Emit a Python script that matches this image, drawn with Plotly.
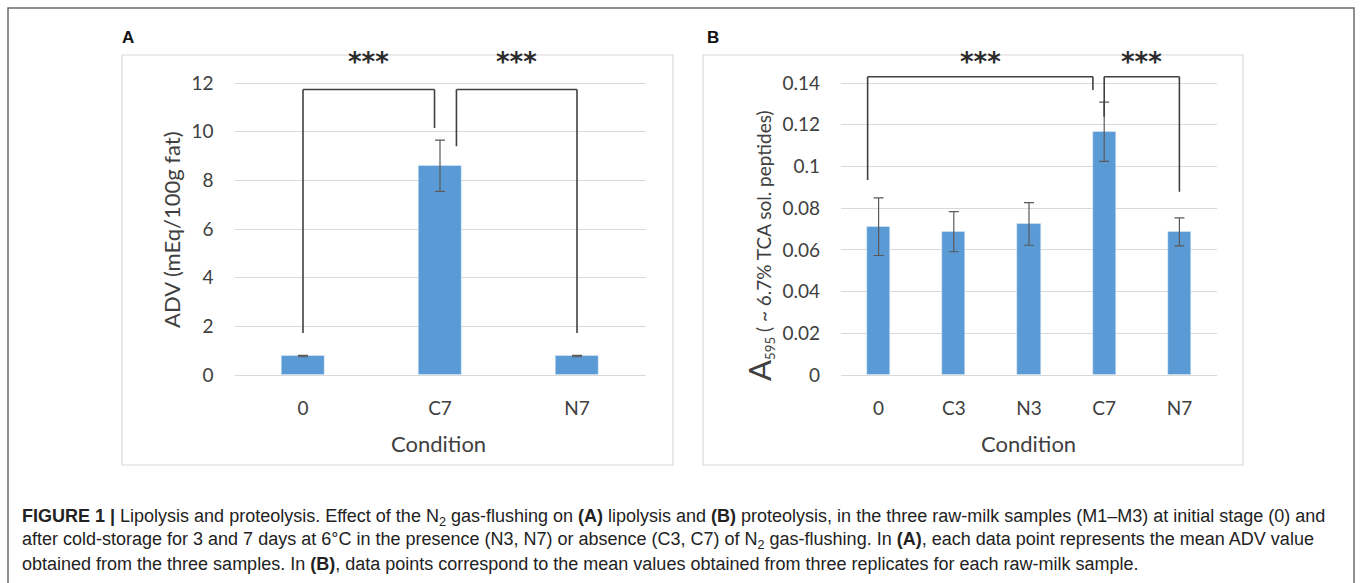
import plotly.graph_objects as go

# ---------------- data ----------------
cats_a = ["0", "C7", "N7"]
adv_mean = [0.78, 8.6, 0.78]
adv_err = [0.03, 1.05, 0.03]

cats_b = ["0", "C3", "N3", "C7", "N7"]
a595_mean = [0.0711, 0.0687, 0.0724, 0.1166, 0.0686]
a595_err = [0.0138, 0.0096, 0.0102, 0.0142, 0.0067]

yticks_a = [0, 2, 4, 6, 8, 10, 12]
yticks_b = [0, 0.02, 0.04, 0.06, 0.08, 0.1, 0.12, 0.14]
yticklabels_b = ["0", "0.02", "0.04", "0.06", "0.08", "0.1", "0.12", "0.14"]

# significance brackets: (from cat, offset, leg height, to cat, offset, leg height, top)
brackets_a = [
    ("0", 0.0, 1.73, "C7", -0.04, 10.15, 11.73),
    ("C7", 0.12, 9.4, "N7", 0.0, 1.73, 11.73),
]
brackets_b = [
    ("0", -0.146, 0.0935, "C7", -0.15, 0.1366, 0.143),
    ("C7", 0.0, 0.1238, "N7", 0.0, 0.0879, 0.143),
]
sig_label = "***"
star_y_a = 12.88
star_y_b = 0.1502

# ---------------- layout helpers ----------------
W, H = 1360, 583
def fx(px):
    return px / W
def fy(py):
    return 1 - py / H

BAR = "#5B9BD5"
GRID = "#d9d9d9"
TXT = "#404040"
FONT = "Lato, 'Open Sans', sans-serif"

# y=0 at 375 px, top tick at 83 px; ranges extended above top tick for brackets
Y0_PX, YTOP_PX = 375, 83
range_a = [0, 13.2]
range_b = [0, 0.154]
top_px = Y0_PX - (Y0_PX - YTOP_PX) * range_a[1] / yticks_a[-1]

fig = go.Figure()
fig.add_trace(go.Bar(
    x=cats_a, y=adv_mean, width=0.31, marker_color=BAR,
    error_y=dict(type="data", array=adv_err, color="#595959", thickness=1.2, width=5),
    xaxis="x", yaxis="y", showlegend=False))
fig.add_trace(go.Bar(
    x=cats_b, y=a595_mean, width=0.31, marker_color=BAR,
    error_y=dict(type="data", array=a595_err, color="#595959", thickness=1.2, width=5),
    xaxis="x2", yaxis="y2", showlegend=False))

shapes = []
annotations = []

def add_brackets(brackets, cats, xref, yref, star_y):
    for c0, d0, h0, c1, d1, h1, top in brackets:
        xa = cats.index(c0) + d0
        xb = cats.index(c1) + d1
        for (x0, y0, x1, y1) in [(xa, h0, xa, top), (xa, top, xb, top), (xb, top, xb, h1)]:
            shapes.append(dict(type="line", xref=xref, yref=yref, x0=x0, y0=y0, x1=x1, y1=y1,
                               line=dict(color="#404040", width=1.6)))
        annotations.append(dict(x=(xa + xb) / 2, y=star_y, xref=xref, yref=yref,
                                text="<b>" + sig_label + "</b>",
                                xanchor="center", yanchor="middle", showarrow=False,
                                font=dict(family="DejaVu Sans", size=26, color="#2b2b2b")))

add_brackets(brackets_a, cats_a, "x", "y", star_y_a)
add_brackets(brackets_b, cats_b, "x2", "y2", star_y_b)

# frames
shapes.append(dict(type="rect", xref="paper", yref="paper", x0=fx(8), x1=fx(1354), y0=fy(8), y1=fy(600),
                   line=dict(color="#6b6b6b", width=1.5), layer="below"))
shapes.append(dict(type="rect", xref="paper", yref="paper", x0=fx(122), x1=fx(673), y0=fy(55), y1=fy(465),
                   line=dict(color=GRID, width=1.2), layer="below"))
shapes.append(dict(type="rect", xref="paper", yref="paper", x0=fx(703), x1=fx(1243), y0=fy(55), y1=fy(465),
                   line=dict(color=GRID, width=1.2), layer="below"))

def label(px, py, text, font, **kw):
    d = dict(x=fx(px), y=fy(py), xref="paper", yref="paper", text=text, showarrow=False,
             xanchor="center", yanchor="middle", font=font)
    d.update(kw)
    annotations.append(d)

# panel letters
letter_font = dict(family="Liberation Sans, Arial", size=17, color="#111")
label(128, 37, "<b>A</b>", letter_font)
label(713, 37, "<b>B</b>", letter_font)

# axis titles
title_font = dict(family=FONT, size=22, color=TXT)
label(438, 443, "Condition", title_font)
label(1028, 443, "Condition", title_font)
label(171, 230, "ADV (mEq/100g fat)", title_font, textangle=-90)
label(759, 246, "<span style='font-size:31px'>A</span><sub>595</sub> ( ~ 6.7% TCA sol. peptides)",
      dict(family=FONT, size=19, color=TXT), textangle=-90)

# caption
cap_font = dict(family="Liberation Sans, Arial, sans-serif", size=18, color="#222")
caption = [
    "<b>FIGURE 1 |</b> Lipolysis and proteolysis. Effect of the N<sub>2</sub> gas-flushing on <b>(A)</b> lipolysis and <b>(B)</b> proteolysis, in the three raw-milk samples (M1–M3) at initial stage (0) and",
    "after cold-storage for 3 and 7 days at 6°C in the presence (N3, N7) or absence (C3, C7) of N<sub>2</sub> gas-flushing. In <b>(A)</b>, each data point represents the mean ADV value",
    "obtained from the three samples. In <b>(B)</b>, data points correspond to the mean values obtained from three replicates for each raw-milk sample.",
]
for i, line in enumerate(caption):
    label(20, 517 + 23.5 * i, line, cap_font, xanchor="left")

axis_common = dict(showline=False, ticks="", tickfont=dict(family=FONT, size=19, color=TXT))
fig.update_layout(
    width=W, height=H, margin=dict(l=0, r=0, t=0, b=0, autoexpand=False),
    paper_bgcolor="white", plot_bgcolor="white",
    xaxis=dict(domain=[fx(234.5), fx(645.5)], range=[-0.5, 2.5], anchor="y", showgrid=False,
               zeroline=False, ticklabelstandoff=20, **axis_common),
    yaxis=dict(domain=[fy(Y0_PX), fy(top_px)], range=range_a, anchor="x", tickvals=yticks_a,
               showgrid=True, gridcolor=GRID, gridwidth=1.2, zeroline=True, zerolinecolor=GRID,
               zerolinewidth=1.2, ticklabelstandoff=20, **axis_common),
    xaxis2=dict(domain=[fx(841), fx(1217)], range=[-0.5, 4.5], anchor="y2", showgrid=False,
                zeroline=False, ticklabelstandoff=20, **axis_common),
    yaxis2=dict(domain=[fy(Y0_PX), fy(top_px)], range=range_b, anchor="x2", tickvals=yticks_b,
                ticktext=yticklabels_b, showgrid=True, gridcolor=GRID, gridwidth=1.2, zeroline=True,
                zerolinecolor=GRID, zerolinewidth=1.2, ticklabelstandoff=20, **axis_common),
    shapes=shapes, annotations=annotations, bargap=0,
)

fig.write_html(
    "out.html",
    config={"displayModeBar": False},
    post_script="document.documentElement.style.margin='0';document.body.style.margin='0';"
                "document.documentElement.style.overflow='hidden';document.body.style.overflow='hidden';",
)
